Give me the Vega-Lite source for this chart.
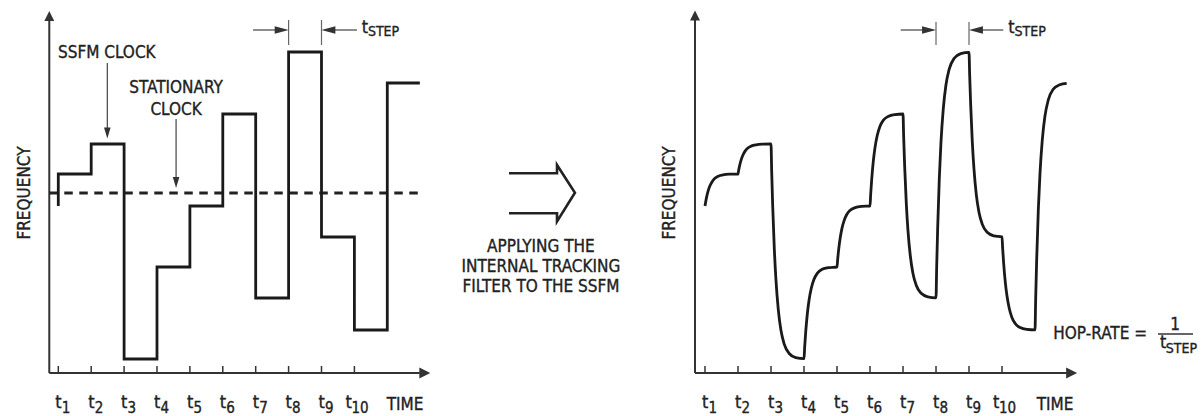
{
  "$schema": "https://vega.github.io/schema/vega-lite/v6.json",
  "padding": 0,
  "spacing": 0,
  "bounds": "flush",
  "background": "white",
  "config": {
    "view": {"stroke": null},
    "concat": {"spacing": 0},
    "text": {"font": "DejaVu Sans Condensed, Liberation Sans Narrow, Liberation Sans, sans-serif", "color": "#222", "fontSize": 17, "stroke": "#222", "strokeWidth": 0.35}
  },
  "datasets": {
    "stepL": [
      {"t": 1, "v": 167, "o": 0}, {"t": 1, "v": 199, "o": 1}, {"t": 2, "v": 199, "o": 2}, {"t": 2, "v": 229, "o": 3},
      {"t": 3, "v": 229, "o": 4}, {"t": 3, "v": 14, "o": 5}, {"t": 4, "v": 14, "o": 6}, {"t": 4, "v": 106, "o": 7},
      {"t": 5, "v": 106, "o": 8}, {"t": 5, "v": 167, "o": 9}, {"t": 6, "v": 167, "o": 10}, {"t": 6, "v": 259, "o": 11},
      {"t": 7, "v": 259, "o": 12}, {"t": 7, "v": 75, "o": 13}, {"t": 8, "v": 75, "o": 14}, {"t": 8, "v": 321, "o": 15},
      {"t": 9, "v": 321, "o": 16}, {"t": 9, "v": 136, "o": 17}, {"t": 10, "v": 136, "o": 18}, {"t": 10, "v": 43, "o": 19},
      {"t": 11, "v": 43, "o": 20}, {"t": 11, "v": 290, "o": 21}, {"t": 11.99, "v": 290, "o": 22}
    ],
    "curveR": [
      {"t": 1.00, "v": 167}, {"t": 1.02, "v": 171.0}, {"t": 1.05, "v": 176.1}, {"t": 1.10, "v": 182.6}, {"t": 1.15, "v": 187.2},
      {"t": 1.22, "v": 191.6}, {"t": 1.30, "v": 194.7}, {"t": 1.40, "v": 196.8}, {"t": 1.55, "v": 198.2}, {"t": 1.75, "v": 198.8},
      {"t": 2.00, "v": 199}, {"t": 2.02, "v": 202.8}, {"t": 2.05, "v": 207.5}, {"t": 2.10, "v": 213.6}, {"t": 2.15, "v": 218.0},
      {"t": 2.22, "v": 222.1}, {"t": 2.30, "v": 225.0}, {"t": 2.40, "v": 226.9}, {"t": 2.55, "v": 228.2}, {"t": 2.75, "v": 228.8},
      {"t": 3.00, "v": 229}, {"t": 3.02, "v": 202.1}, {"t": 3.05, "v": 168.2}, {"t": 3.10, "v": 124.3}, {"t": 3.15, "v": 93.1},
      {"t": 3.22, "v": 63.7}, {"t": 3.30, "v": 43.0}, {"t": 3.40, "v": 28.9}, {"t": 3.55, "v": 19.5}, {"t": 3.75, "v": 15.4},
      {"t": 4.00, "v": 14.3}, {"t": 4.02, "v": 25.8}, {"t": 4.05, "v": 40.3}, {"t": 4.10, "v": 59.0}, {"t": 4.15, "v": 72.3},
      {"t": 4.22, "v": 84.8}, {"t": 4.30, "v": 93.6}, {"t": 4.40, "v": 99.6}, {"t": 4.55, "v": 103.7}, {"t": 4.75, "v": 105.4},
      {"t": 5.00, "v": 106}, {"t": 5.02, "v": 113.6}, {"t": 5.05, "v": 123.3}, {"t": 5.10, "v": 135.7}, {"t": 5.15, "v": 144.6},
      {"t": 5.22, "v": 152.9}, {"t": 5.30, "v": 158.8}, {"t": 5.40, "v": 162.8}, {"t": 5.55, "v": 165.4}, {"t": 5.75, "v": 166.6},
      {"t": 6.00, "v": 167}, {"t": 6.02, "v": 178.5}, {"t": 6.05, "v": 193.0}, {"t": 6.10, "v": 211.8}, {"t": 6.15, "v": 225.1},
      {"t": 6.22, "v": 237.7}, {"t": 6.30, "v": 246.6}, {"t": 6.40, "v": 252.6}, {"t": 6.55, "v": 256.6}, {"t": 6.75, "v": 258.4},
      {"t": 7.00, "v": 259}, {"t": 7.02, "v": 236.0}, {"t": 7.05, "v": 206.9}, {"t": 7.10, "v": 169.4}, {"t": 7.15, "v": 142.7},
      {"t": 7.22, "v": 117.5}, {"t": 7.30, "v": 99.8}, {"t": 7.40, "v": 87.8}, {"t": 7.55, "v": 79.7}, {"t": 7.75, "v": 76.2},
      {"t": 8.00, "v": 75.2}, {"t": 8.02, "v": 105.7}, {"t": 8.05, "v": 144.6}, {"t": 8.10, "v": 194.8}, {"t": 8.15, "v": 230.5},
      {"t": 8.22, "v": 264.2}, {"t": 8.30, "v": 287.8}, {"t": 8.40, "v": 303.9}, {"t": 8.55, "v": 314.7}, {"t": 8.75, "v": 319.4},
      {"t": 9.00, "v": 320.7}, {"t": 9.02, "v": 297.9}, {"t": 9.05, "v": 268.6}, {"t": 9.10, "v": 230.9}, {"t": 9.15, "v": 204.1},
      {"t": 9.22, "v": 178.7}, {"t": 9.30, "v": 161.0}, {"t": 9.40, "v": 148.9}, {"t": 9.55, "v": 140.7}, {"t": 9.75, "v": 137.2},
      {"t": 10.00, "v": 136.2}, {"t": 10.02, "v": 124.4}, {"t": 10.05, "v": 109.7}, {"t": 10.10, "v": 90.7}, {"t": 10.15, "v": 77.2},
      {"t": 10.22, "v": 64.5}, {"t": 10.30, "v": 55.6}, {"t": 10.40, "v": 49.5}, {"t": 10.55, "v": 45.4}, {"t": 10.75, "v": 43.6},
      {"t": 11.00, "v": 43.1}, {"t": 11.02, "v": 73.9}, {"t": 11.05, "v": 112.9}, {"t": 11.10, "v": 163.3}, {"t": 11.15, "v": 199.1},
      {"t": 11.22, "v": 232.9}, {"t": 11.30, "v": 256.7}, {"t": 11.40, "v": 272.8}, {"t": 11.55, "v": 283.7}, {"t": 11.75, "v": 288.3},
      {"t": 11.96, "v": 289.7}
    ],
    "ticks": [
      {"t": 1, "s": "1"}, {"t": 2, "s": "2"}, {"t": 3, "s": "3"}, {"t": 4, "s": "4"}, {"t": 5, "s": "5"},
      {"t": 6, "s": "6"}, {"t": 7, "s": "7"}, {"t": 8, "s": "8"}, {"t": 9, "s": "9"}, {"t": 10, "s": "10"}
    ],
    "arrowM": [
      {"x": 33.5, "y": 199.7, "o": 0}, {"x": 56.8, "y": 199.7, "o": 1}, {"x": 56.8, "y": 208, "o": 2},
      {"x": 65.5, "y": 180.3, "o": 3}, {"x": 56.8, "y": 151.5, "o": 4}, {"x": 56.8, "y": 159.7, "o": 5},
      {"x": 33.5, "y": 159.7, "o": 6}
    ]
  },
  "hconcat": [
    {
      "width": 440,
      "height": 416,
      "data": {"values": [{}]},
      "layer": [
        {"mark": {"type": "rule", "stroke": "#333", "strokeWidth": 2},
         "encoding": {"x": {"datum": 0.726, "type": "quantitative", "scale": {"domain": [-0.772, 12.602], "nice": false, "zero": false}, "axis": null},
                      "y": {"datum": 0, "type": "quantitative", "scale": {"domain": [-43, 373], "nice": false, "zero": false}, "axis": null},
                      "y2": {"datum": 353}}},
        {"mark": {"type": "point", "shape": "M-1,1L0,-1L1,1Z", "size": 100, "filled": true, "color": "#333", "opacity": 1, "strokeWidth": 0},
         "encoding": {"x": {"datum": 0.726, "type": "quantitative", "scale": {"domain": [-0.772, 12.602], "nice": false, "zero": false}, "axis": null},
                      "y": {"datum": 357, "type": "quantitative", "scale": {"domain": [-43, 373], "nice": false, "zero": false}, "axis": null}}},
        {"mark": {"type": "rule", "stroke": "#333", "strokeWidth": 2},
         "encoding": {"x": {"datum": 0.726, "type": "quantitative", "scale": {"domain": [-0.772, 12.602], "nice": false, "zero": false}, "axis": null},
                      "x2": {"datum": 11.99},
                      "y": {"datum": 0, "type": "quantitative", "scale": {"domain": [-43, 373], "nice": false, "zero": false}, "axis": null}}},
        {"mark": {"type": "point", "shape": "M-1,-1L1,0L-1,1Z", "size": 121, "filled": true, "color": "#333", "opacity": 1, "strokeWidth": 0},
         "encoding": {"x": {"datum": 12.14, "type": "quantitative", "scale": {"domain": [-0.772, 12.602], "nice": false, "zero": false}, "axis": null},
                      "y": {"datum": 0, "type": "quantitative", "scale": {"domain": [-43, 373], "nice": false, "zero": false}, "axis": null}}},
        {"data": {"name": "ticks"},
         "mark": {"type": "rule", "stroke": "#333", "strokeWidth": 1.5},
         "encoding": {"x": {"field": "t", "type": "quantitative", "scale": {"domain": [-0.772, 12.602], "nice": false, "zero": false}, "axis": null},
                      "y": {"datum": 0, "type": "quantitative", "scale": {"domain": [-43, 373], "nice": false, "zero": false}, "axis": null},
                      "y2": {"datum": 7}}},
        {"data": {"name": "ticks"}, "transform": [{"filter": "datum.t < 10"}],
         "mark": {"type": "text", "text": "t", "align": "left", "baseline": "alphabetic", "fontSize": 18, "dx": -3},
         "encoding": {"x": {"field": "t", "type": "quantitative", "scale": {"domain": [-0.772, 12.602], "nice": false, "zero": false}, "axis": null},
                      "y": {"datum": -35.3, "type": "quantitative", "scale": {"domain": [-43, 373], "nice": false, "zero": false}, "axis": null}}},
        {"data": {"name": "ticks"}, "transform": [{"filter": "datum.t < 10"}],
         "mark": {"type": "text", "align": "left", "baseline": "alphabetic", "fontSize": 15, "dx": 3.5},
         "encoding": {"x": {"field": "t", "type": "quantitative", "scale": {"domain": [-0.772, 12.602], "nice": false, "zero": false}, "axis": null},
                      "y": {"datum": -40.3, "type": "quantitative", "scale": {"domain": [-43, 373], "nice": false, "zero": false}, "axis": null},
                      "text": {"field": "s"}}},
        {"mark": {"type": "text", "text": "t", "align": "left", "baseline": "alphabetic", "fontSize": 18, "dx": -9},
         "encoding": {"x": {"datum": 10, "type": "quantitative", "scale": {"domain": [-0.772, 12.602], "nice": false, "zero": false}, "axis": null},
                      "y": {"datum": -35.3, "type": "quantitative", "scale": {"domain": [-43, 373], "nice": false, "zero": false}, "axis": null}}},
        {"mark": {"type": "text", "text": "10", "align": "left", "baseline": "alphabetic", "fontSize": 15, "dx": -3},
         "encoding": {"x": {"datum": 10, "type": "quantitative", "scale": {"domain": [-0.772, 12.602], "nice": false, "zero": false}, "axis": null},
                      "y": {"datum": -40.3, "type": "quantitative", "scale": {"domain": [-43, 373], "nice": false, "zero": false}, "axis": null}}},
        {"mark": {"type": "text", "text": "TIME", "align": "left", "baseline": "alphabetic"},
         "encoding": {"x": {"datum": 10.98, "type": "quantitative", "scale": {"domain": [-0.772, 12.602], "nice": false, "zero": false}, "axis": null},
                      "y": {"datum": -36.5, "type": "quantitative", "scale": {"domain": [-43, 373], "nice": false, "zero": false}, "axis": null}}},
        {"mark": {"type": "text", "text": "FREQUENCY", "align": "center", "baseline": "alphabetic", "angle": 270},
         "encoding": {"x": {"datum": 0.14, "type": "quantitative", "scale": {"domain": [-0.772, 12.602], "nice": false, "zero": false}, "axis": null},
                      "y": {"datum": 180, "type": "quantitative", "scale": {"domain": [-43, 373], "nice": false, "zero": false}, "axis": null}}},
        {"mark": {"type": "rule", "stroke": "#222", "strokeWidth": 3, "strokeDash": [8.5, 6.5]},
         "encoding": {"x": {"datum": 0.726, "type": "quantitative", "scale": {"domain": [-0.772, 12.602], "nice": false, "zero": false}, "axis": null},
                      "x2": {"datum": 12.08},
                      "y": {"datum": 180, "type": "quantitative", "scale": {"domain": [-43, 373], "nice": false, "zero": false}, "axis": null}}},
        {"data": {"name": "stepL"},
         "mark": {"type": "line", "stroke": "#1a1a1a", "strokeWidth": 2.8, "strokeJoin": "miter"},
         "encoding": {"x": {"field": "t", "type": "quantitative", "scale": {"domain": [-0.772, 12.602], "nice": false, "zero": false}, "axis": null},
                      "y": {"field": "v", "type": "quantitative", "scale": {"domain": [-43, 373], "nice": false, "zero": false}, "axis": null},
                      "order": {"field": "o", "type": "quantitative"}}},
        {"mark": {"type": "text", "text": "SSFM CLOCK", "align": "left", "baseline": "alphabetic"},
         "encoding": {"x": {"datum": 0.99, "type": "quantitative", "scale": {"domain": [-0.772, 12.602], "nice": false, "zero": false}, "axis": null},
                      "y": {"datum": 315.5, "type": "quantitative", "scale": {"domain": [-43, 373], "nice": false, "zero": false}, "axis": null}}},
        {"mark": {"type": "rule", "stroke": "#444", "strokeWidth": 1.2},
         "encoding": {"x": {"datum": 2.49, "type": "quantitative", "scale": {"domain": [-0.772, 12.602], "nice": false, "zero": false}, "axis": null},
                      "y": {"datum": 310, "type": "quantitative", "scale": {"domain": [-43, 373], "nice": false, "zero": false}, "axis": null},
                      "y2": {"datum": 244}}},
        {"mark": {"type": "point", "shape": "M-0.6,-1L0.6,-1L0,1Z", "size": 121, "filled": true, "color": "#333", "opacity": 1, "strokeWidth": 0},
         "encoding": {"x": {"datum": 2.49, "type": "quantitative", "scale": {"domain": [-0.772, 12.602], "nice": false, "zero": false}, "axis": null},
                      "y": {"datum": 240, "type": "quantitative", "scale": {"domain": [-43, 373], "nice": false, "zero": false}, "axis": null}}},
        {"mark": {"type": "text", "text": "STATIONARY", "align": "center", "baseline": "alphabetic"},
         "encoding": {"x": {"datum": 4.58, "type": "quantitative", "scale": {"domain": [-0.772, 12.602], "nice": false, "zero": false}, "axis": null},
                      "y": {"datum": 279.7, "type": "quantitative", "scale": {"domain": [-43, 373], "nice": false, "zero": false}, "axis": null}}},
        {"mark": {"type": "text", "text": "CLOCK", "align": "center", "baseline": "alphabetic"},
         "encoding": {"x": {"datum": 4.58, "type": "quantitative", "scale": {"domain": [-0.772, 12.602], "nice": false, "zero": false}, "axis": null},
                      "y": {"datum": 258, "type": "quantitative", "scale": {"domain": [-43, 373], "nice": false, "zero": false}, "axis": null}}},
        {"mark": {"type": "rule", "stroke": "#444", "strokeWidth": 1.2},
         "encoding": {"x": {"datum": 4.58, "type": "quantitative", "scale": {"domain": [-0.772, 12.602], "nice": false, "zero": false}, "axis": null},
                      "y": {"datum": 254, "type": "quantitative", "scale": {"domain": [-43, 373], "nice": false, "zero": false}, "axis": null},
                      "y2": {"datum": 195}}},
        {"mark": {"type": "point", "shape": "M-0.6,-1L0.6,-1L0,1Z", "size": 121, "filled": true, "color": "#333", "opacity": 1, "strokeWidth": 0},
         "encoding": {"x": {"datum": 4.58, "type": "quantitative", "scale": {"domain": [-0.772, 12.602], "nice": false, "zero": false}, "axis": null},
                      "y": {"datum": 190.5, "type": "quantitative", "scale": {"domain": [-43, 373], "nice": false, "zero": false}, "axis": null}}},
        {"mark": {"type": "rule", "stroke": "#666", "strokeWidth": 1.2},
         "encoding": {"x": {"datum": 8, "type": "quantitative", "scale": {"domain": [-0.772, 12.602], "nice": false, "zero": false}, "axis": null},
                      "y": {"datum": 328, "type": "quantitative", "scale": {"domain": [-43, 373], "nice": false, "zero": false}, "axis": null},
                      "y2": {"datum": 353}}},
        {"mark": {"type": "rule", "stroke": "#666", "strokeWidth": 1.2},
         "encoding": {"x": {"datum": 9, "type": "quantitative", "scale": {"domain": [-0.772, 12.602], "nice": false, "zero": false}, "axis": null},
                      "y": {"datum": 328, "type": "quantitative", "scale": {"domain": [-43, 373], "nice": false, "zero": false}, "axis": null},
                      "y2": {"datum": 353}}},
        {"mark": {"type": "rule", "stroke": "#444", "strokeWidth": 1.2},
         "encoding": {"x": {"datum": 6.92, "type": "quantitative", "scale": {"domain": [-0.772, 12.602], "nice": false, "zero": false}, "axis": null},
                      "x2": {"datum": 7.7},
                      "y": {"datum": 343, "type": "quantitative", "scale": {"domain": [-43, 373], "nice": false, "zero": false}, "axis": null}}},
        {"mark": {"type": "point", "shape": "M-1,-0.55L1,0L-1,0.55Z", "size": 196, "filled": true, "color": "#333", "opacity": 1, "strokeWidth": 0},
         "encoding": {"x": {"datum": 7.79, "type": "quantitative", "scale": {"domain": [-0.772, 12.602], "nice": false, "zero": false}, "axis": null},
                      "y": {"datum": 343, "type": "quantitative", "scale": {"domain": [-43, 373], "nice": false, "zero": false}, "axis": null}}},
        {"mark": {"type": "rule", "stroke": "#444", "strokeWidth": 1.2},
         "encoding": {"x": {"datum": 9.3, "type": "quantitative", "scale": {"domain": [-0.772, 12.602], "nice": false, "zero": false}, "axis": null},
                      "x2": {"datum": 10.08},
                      "y": {"datum": 343, "type": "quantitative", "scale": {"domain": [-43, 373], "nice": false, "zero": false}, "axis": null}}},
        {"mark": {"type": "point", "shape": "M1,-0.55L-1,0L1,0.55Z", "size": 196, "filled": true, "color": "#333", "opacity": 1, "strokeWidth": 0},
         "encoding": {"x": {"datum": 9.21, "type": "quantitative", "scale": {"domain": [-0.772, 12.602], "nice": false, "zero": false}, "axis": null},
                      "y": {"datum": 343, "type": "quantitative", "scale": {"domain": [-43, 373], "nice": false, "zero": false}, "axis": null}}},
        {"mark": {"type": "text", "text": "t", "align": "left", "baseline": "alphabetic", "fontSize": 18},
         "encoding": {"x": {"datum": 10.22, "type": "quantitative", "scale": {"domain": [-0.772, 12.602], "nice": false, "zero": false}, "axis": null},
                      "y": {"datum": 340.3, "type": "quantitative", "scale": {"domain": [-43, 373], "nice": false, "zero": false}, "axis": null}}},
        {"mark": {"type": "text", "text": "STEP", "align": "left", "baseline": "alphabetic", "fontSize": 14, "dx": 6.3},
         "encoding": {"x": {"datum": 10.22, "type": "quantitative", "scale": {"domain": [-0.772, 12.602], "nice": false, "zero": false}, "axis": null},
                      "y": {"datum": 337.3, "type": "quantitative", "scale": {"domain": [-43, 373], "nice": false, "zero": false}, "axis": null}}}
      ]
    },
    {
      "width": 206,
      "height": 416,
      "data": {"values": [{}]},
      "layer": [
        {"data": {"name": "arrowM"},
         "mark": {"type": "line", "stroke": "#222", "strokeWidth": 2.6, "strokeJoin": "miter"},
         "encoding": {"x": {"field": "x", "type": "quantitative", "scale": {"domain": [0, 100], "nice": false, "zero": false}, "axis": null},
                      "y": {"field": "y", "type": "quantitative", "scale": {"domain": [-43, 373], "nice": false, "zero": false}, "axis": null},
                      "order": {"field": "o", "type": "quantitative"}}},
        {"mark": {"type": "text", "text": "APPLYING THE", "align": "center", "baseline": "alphabetic"},
         "encoding": {"x": {"datum": 49, "type": "quantitative", "scale": {"domain": [0, 100], "nice": false, "zero": false}, "axis": null},
                      "y": {"datum": 121.3, "type": "quantitative", "scale": {"domain": [-43, 373], "nice": false, "zero": false}, "axis": null}}},
        {"mark": {"type": "text", "text": "INTERNAL TRACKING", "align": "center", "baseline": "alphabetic"},
         "encoding": {"x": {"datum": 49, "type": "quantitative", "scale": {"domain": [0, 100], "nice": false, "zero": false}, "axis": null},
                      "y": {"datum": 101.3, "type": "quantitative", "scale": {"domain": [-43, 373], "nice": false, "zero": false}, "axis": null}}},
        {"mark": {"type": "text", "text": "FILTER TO THE SSFM", "align": "center", "baseline": "alphabetic"},
         "encoding": {"x": {"datum": 49, "type": "quantitative", "scale": {"domain": [0, 100], "nice": false, "zero": false}, "axis": null},
                      "y": {"datum": 81.3, "type": "quantitative", "scale": {"domain": [-43, 373], "nice": false, "zero": false}, "axis": null}}}
      ]
    },
    {
      "width": 556,
      "height": 416,
      "data": {"values": [{}]},
      "layer": [
        {"mark": {"type": "rule", "stroke": "#333", "strokeWidth": 2},
         "encoding": {"x": {"datum": 0.697, "type": "quantitative", "scale": {"domain": [-0.788, 16.06], "nice": false, "zero": false}, "axis": null},
                      "y": {"datum": 0, "type": "quantitative", "scale": {"domain": [-43, 373], "nice": false, "zero": false}, "axis": null},
                      "y2": {"datum": 353}}},
        {"mark": {"type": "point", "shape": "M-1,1L0,-1L1,1Z", "size": 100, "filled": true, "color": "#333", "opacity": 1, "strokeWidth": 0},
         "encoding": {"x": {"datum": 0.697, "type": "quantitative", "scale": {"domain": [-0.788, 16.06], "nice": false, "zero": false}, "axis": null},
                      "y": {"datum": 357.5, "type": "quantitative", "scale": {"domain": [-43, 373], "nice": false, "zero": false}, "axis": null}}},
        {"mark": {"type": "rule", "stroke": "#333", "strokeWidth": 2},
         "encoding": {"x": {"datum": 0.697, "type": "quantitative", "scale": {"domain": [-0.788, 16.06], "nice": false, "zero": false}, "axis": null},
                      "x2": {"datum": 11.96},
                      "y": {"datum": 0, "type": "quantitative", "scale": {"domain": [-43, 373], "nice": false, "zero": false}, "axis": null}}},
        {"mark": {"type": "point", "shape": "M-1,-1L1,0L-1,1Z", "size": 121, "filled": true, "color": "#333", "opacity": 1, "strokeWidth": 0},
         "encoding": {"x": {"datum": 12.11, "type": "quantitative", "scale": {"domain": [-0.788, 16.06], "nice": false, "zero": false}, "axis": null},
                      "y": {"datum": 0, "type": "quantitative", "scale": {"domain": [-43, 373], "nice": false, "zero": false}, "axis": null}}},
        {"data": {"name": "ticks"},
         "mark": {"type": "rule", "stroke": "#333", "strokeWidth": 1.5},
         "encoding": {"x": {"field": "t", "type": "quantitative", "scale": {"domain": [-0.788, 16.06], "nice": false, "zero": false}, "axis": null},
                      "y": {"datum": 0, "type": "quantitative", "scale": {"domain": [-43, 373], "nice": false, "zero": false}, "axis": null},
                      "y2": {"datum": 7}}},
        {"data": {"name": "ticks"}, "transform": [{"filter": "datum.t < 10"}],
         "mark": {"type": "text", "text": "t", "align": "left", "baseline": "alphabetic", "fontSize": 18, "dx": -3},
         "encoding": {"x": {"field": "t", "type": "quantitative", "scale": {"domain": [-0.788, 16.06], "nice": false, "zero": false}, "axis": null},
                      "y": {"datum": -35.3, "type": "quantitative", "scale": {"domain": [-43, 373], "nice": false, "zero": false}, "axis": null}}},
        {"data": {"name": "ticks"}, "transform": [{"filter": "datum.t < 10"}],
         "mark": {"type": "text", "align": "left", "baseline": "alphabetic", "fontSize": 15, "dx": 3.5},
         "encoding": {"x": {"field": "t", "type": "quantitative", "scale": {"domain": [-0.788, 16.06], "nice": false, "zero": false}, "axis": null},
                      "y": {"datum": -40.3, "type": "quantitative", "scale": {"domain": [-43, 373], "nice": false, "zero": false}, "axis": null},
                      "text": {"field": "s"}}},
        {"mark": {"type": "text", "text": "t", "align": "left", "baseline": "alphabetic", "fontSize": 18, "dx": -9},
         "encoding": {"x": {"datum": 10, "type": "quantitative", "scale": {"domain": [-0.788, 16.06], "nice": false, "zero": false}, "axis": null},
                      "y": {"datum": -35.3, "type": "quantitative", "scale": {"domain": [-43, 373], "nice": false, "zero": false}, "axis": null}}},
        {"mark": {"type": "text", "text": "10", "align": "left", "baseline": "alphabetic", "fontSize": 15, "dx": -3},
         "encoding": {"x": {"datum": 10, "type": "quantitative", "scale": {"domain": [-0.788, 16.06], "nice": false, "zero": false}, "axis": null},
                      "y": {"datum": -40.3, "type": "quantitative", "scale": {"domain": [-43, 373], "nice": false, "zero": false}, "axis": null}}},
        {"mark": {"type": "text", "text": "TIME", "align": "left", "baseline": "alphabetic"},
         "encoding": {"x": {"datum": 11.05, "type": "quantitative", "scale": {"domain": [-0.788, 16.06], "nice": false, "zero": false}, "axis": null},
                      "y": {"datum": -36.5, "type": "quantitative", "scale": {"domain": [-43, 373], "nice": false, "zero": false}, "axis": null}}},
        {"mark": {"type": "text", "text": "FREQUENCY", "align": "center", "baseline": "alphabetic", "angle": 270},
         "encoding": {"x": {"datum": 0.09, "type": "quantitative", "scale": {"domain": [-0.788, 16.06], "nice": false, "zero": false}, "axis": null},
                      "y": {"datum": 180, "type": "quantitative", "scale": {"domain": [-43, 373], "nice": false, "zero": false}, "axis": null}}},
        {"data": {"name": "curveR"},
         "mark": {"type": "line", "stroke": "#1a1a1a", "strokeWidth": 2.8, "interpolate": "monotone"},
         "encoding": {"x": {"field": "t", "type": "quantitative", "scale": {"domain": [-0.788, 16.06], "nice": false, "zero": false}, "axis": null},
                      "y": {"field": "v", "type": "quantitative", "scale": {"domain": [-43, 373], "nice": false, "zero": false}, "axis": null}}},
        {"mark": {"type": "rule", "stroke": "#666", "strokeWidth": 1.2},
         "encoding": {"x": {"datum": 8, "type": "quantitative", "scale": {"domain": [-0.788, 16.06], "nice": false, "zero": false}, "axis": null},
                      "y": {"datum": 328, "type": "quantitative", "scale": {"domain": [-43, 373], "nice": false, "zero": false}, "axis": null},
                      "y2": {"datum": 351}}},
        {"mark": {"type": "rule", "stroke": "#666", "strokeWidth": 1.2},
         "encoding": {"x": {"datum": 9, "type": "quantitative", "scale": {"domain": [-0.788, 16.06], "nice": false, "zero": false}, "axis": null},
                      "y": {"datum": 328, "type": "quantitative", "scale": {"domain": [-43, 373], "nice": false, "zero": false}, "axis": null},
                      "y2": {"datum": 351}}},
        {"mark": {"type": "rule", "stroke": "#444", "strokeWidth": 1.2},
         "encoding": {"x": {"datum": 6.93, "type": "quantitative", "scale": {"domain": [-0.788, 16.06], "nice": false, "zero": false}, "axis": null},
                      "x2": {"datum": 7.7},
                      "y": {"datum": 343, "type": "quantitative", "scale": {"domain": [-43, 373], "nice": false, "zero": false}, "axis": null}}},
        {"mark": {"type": "point", "shape": "M-1,-0.55L1,0L-1,0.55Z", "size": 196, "filled": true, "color": "#333", "opacity": 1, "strokeWidth": 0},
         "encoding": {"x": {"datum": 7.79, "type": "quantitative", "scale": {"domain": [-0.788, 16.06], "nice": false, "zero": false}, "axis": null},
                      "y": {"datum": 343, "type": "quantitative", "scale": {"domain": [-43, 373], "nice": false, "zero": false}, "axis": null}}},
        {"mark": {"type": "rule", "stroke": "#444", "strokeWidth": 1.2},
         "encoding": {"x": {"datum": 9.3, "type": "quantitative", "scale": {"domain": [-0.788, 16.06], "nice": false, "zero": false}, "axis": null},
                      "x2": {"datum": 10.04},
                      "y": {"datum": 343, "type": "quantitative", "scale": {"domain": [-43, 373], "nice": false, "zero": false}, "axis": null}}},
        {"mark": {"type": "point", "shape": "M1,-0.55L-1,0L1,0.55Z", "size": 196, "filled": true, "color": "#333", "opacity": 1, "strokeWidth": 0},
         "encoding": {"x": {"datum": 9.21, "type": "quantitative", "scale": {"domain": [-0.788, 16.06], "nice": false, "zero": false}, "axis": null},
                      "y": {"datum": 343, "type": "quantitative", "scale": {"domain": [-43, 373], "nice": false, "zero": false}, "axis": null}}},
        {"mark": {"type": "text", "text": "t", "align": "left", "baseline": "alphabetic", "fontSize": 18},
         "encoding": {"x": {"datum": 10.19, "type": "quantitative", "scale": {"domain": [-0.788, 16.06], "nice": false, "zero": false}, "axis": null},
                      "y": {"datum": 340.3, "type": "quantitative", "scale": {"domain": [-43, 373], "nice": false, "zero": false}, "axis": null}}},
        {"mark": {"type": "text", "text": "STEP", "align": "left", "baseline": "alphabetic", "fontSize": 14, "dx": 6.3},
         "encoding": {"x": {"datum": 10.19, "type": "quantitative", "scale": {"domain": [-0.788, 16.06], "nice": false, "zero": false}, "axis": null},
                      "y": {"datum": 337.3, "type": "quantitative", "scale": {"domain": [-43, 373], "nice": false, "zero": false}, "axis": null}}},
        {"mark": {"type": "text", "text": "HOP-RATE =", "align": "left", "baseline": "alphabetic"},
         "encoding": {"x": {"datum": 11.555, "type": "quantitative", "scale": {"domain": [-0.788, 16.06], "nice": false, "zero": false}, "axis": null},
                      "y": {"datum": 33.7, "type": "quantitative", "scale": {"domain": [-43, 373], "nice": false, "zero": false}, "axis": null}}},
        {"mark": {"type": "rule", "stroke": "#333", "strokeWidth": 1.3},
         "encoding": {"x": {"datum": 14.727, "type": "quantitative", "scale": {"domain": [-0.788, 16.06], "nice": false, "zero": false}, "axis": null},
                      "x2": {"datum": 15.788},
                      "y": {"datum": 39, "type": "quantitative", "scale": {"domain": [-43, 373], "nice": false, "zero": false}, "axis": null}}},
        {"mark": {"type": "text", "text": "1", "align": "center", "baseline": "alphabetic"},
         "encoding": {"x": {"datum": 15.242, "type": "quantitative", "scale": {"domain": [-0.788, 16.06], "nice": false, "zero": false}, "axis": null},
                      "y": {"datum": 43, "type": "quantitative", "scale": {"domain": [-43, 373], "nice": false, "zero": false}, "axis": null}}},
        {"mark": {"type": "text", "text": "t", "align": "left", "baseline": "alphabetic", "fontSize": 18},
         "encoding": {"x": {"datum": 14.788, "type": "quantitative", "scale": {"domain": [-0.788, 16.06], "nice": false, "zero": false}, "axis": null},
                      "y": {"datum": 25, "type": "quantitative", "scale": {"domain": [-43, 373], "nice": false, "zero": false}, "axis": null}}},
        {"mark": {"type": "text", "text": "STEP", "align": "left", "baseline": "alphabetic", "fontSize": 14, "dx": 5.8},
         "encoding": {"x": {"datum": 14.788, "type": "quantitative", "scale": {"domain": [-0.788, 16.06], "nice": false, "zero": false}, "axis": null},
                      "y": {"datum": 19.7, "type": "quantitative", "scale": {"domain": [-43, 373], "nice": false, "zero": false}, "axis": null}}}
      ]
    }
  ]
}
